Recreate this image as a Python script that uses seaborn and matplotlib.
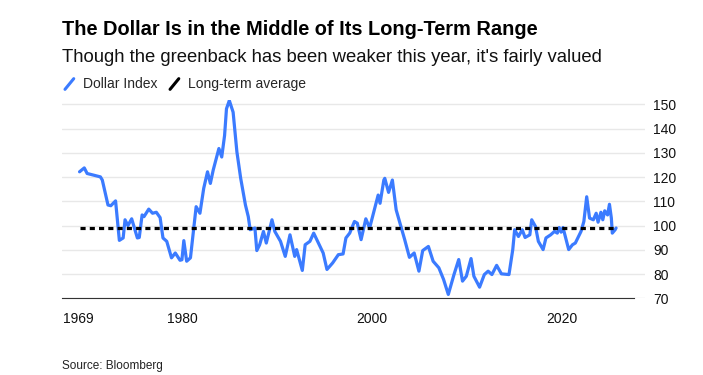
import pandas as pd
import numpy as np
import matplotlib.pyplot as plt
from matplotlib.lines import Line2D
from matplotlib.legend_handler import HandlerBase
import seaborn as sns

# values
years = [1969.15, 1969.65, 1969.95, 1970.65, 1971.35, 1971.55, 1972.15, 1972.45, 1972.95, 1973.35,
         1973.75, 1973.95, 1974.25, 1974.65, 1975.25, 1975.45, 1975.75, 1975.95, 1976.45, 1976.85,
         1977.25, 1977.65, 1977.95, 1978.35, 1978.85, 1979.25, 1979.75, 1979.95, 1980.15, 1980.45,
         1980.85, 1981.45, 1981.85, 1982.25, 1982.65, 1982.95, 1983.25, 1983.85, 1984.15, 1984.45,
         1984.65, 1984.95, 1985.35, 1985.75, 1986.15, 1986.65, 1986.95, 1987.15, 1987.65, 1987.85,
         1988.15, 1988.55, 1988.85, 1989.45, 1989.75, 1990.35, 1990.85, 1991.35, 1991.85, 1992.05,
         1992.65, 1992.95, 1993.45, 1993.85, 1994.35, 1994.85, 1995.25, 1995.85, 1996.45, 1996.95,
         1997.25, 1997.65, 1998.15, 1998.45, 1998.85, 1999.35, 1999.75, 2000.25, 2000.65, 2000.85,
         2001.25, 2001.35, 2001.75, 2002.15, 2002.55, 2002.95, 2003.45, 2003.95, 2004.45, 2004.95,
         2005.35, 2005.95, 2006.45, 2007.05, 2007.55, 2008.05, 2008.35, 2008.65, 2009.15, 2009.55,
         2009.95, 2010.45, 2010.75, 2011.35, 2011.85, 2012.25, 2012.65, 2013.15, 2013.65, 2014.45,
         2014.85, 2015.05, 2015.45, 2015.85, 2016.15, 2016.65, 2016.85, 2017.25, 2017.55, 2018.05,
         2018.35, 2018.85, 2019.25, 2019.55, 2019.75, 2019.95, 2020.15, 2020.75, 2021.15, 2021.45,
         2022.05, 2022.35, 2022.65, 2022.95, 2023.35, 2023.65, 2023.85, 2024.15, 2024.35, 2024.55,
         2024.85, 2025.05, 2025.25, 2025.35, 2025.65, 2025.75]
dollar_index = [122.2, 123.8, 121.5, 120.8, 120.1, 118.8, 108.5, 108.2, 110.2, 93.9,
                94.9, 102.4, 100.0, 102.8, 94.9, 95.1, 104.4, 103.7, 106.8, 105.1,
                105.5, 103.3, 94.9, 93.5, 86.7, 88.7, 85.7, 85.9, 93.8, 85.3,
                86.7, 107.8, 105.1, 115.4, 122.2, 117.4, 122.9, 131.8, 128.3, 137.2,
                148.2, 151.6, 146.8, 130.4, 119.5, 108.5, 103.7, 98.3, 99.0, 89.7,
                92.1, 97.6, 92.8, 102.4, 97.6, 93.5, 87.3, 96.2, 87.3, 90.1,
                81.5, 92.1, 93.5, 96.9, 92.8, 88.7, 81.9, 84.6, 88.0, 88.3,
                94.9, 96.9, 101.7, 101.0, 94.2, 102.8, 99.0, 106.5, 112.6, 109.2,
                118.8, 119.5, 113.7, 118.8, 106.5, 101.0, 94.2, 86.9, 88.7, 81.2,
                89.7, 91.4, 85.3, 82.6, 77.8, 71.6, 75.7, 79.8, 86.0, 77.1,
                79.1, 86.4, 79.1, 74.6, 79.8, 81.2, 79.8, 83.6, 80.1, 79.8,
                90.1, 98.3, 95.5, 98.3, 95.1, 96.2, 102.4, 99.6, 93.5, 90.1,
                94.9, 96.2, 97.6, 96.9, 99.2, 97.3, 99.2, 90.1, 92.1, 92.8,
                97.6, 101.7, 111.9, 103.1, 102.4, 105.1, 101.4, 105.5, 102.4, 106.1,
                104.4, 108.8, 103.1, 96.9, 98.3, 99.0]
long_term_avg = 98.9

tick_years = [1969, 1980, 2000, 2020]
y_ticks = [70, 80, 90, 100, 110, 120, 130, 140, 150]

df = pd.DataFrame({"year": years, "Dollar Index": dollar_index})
df["Long-term average"] = long_term_avg

sns.set_style("white")
plt.rcParams["font.family"] = ["Liberation Sans", "DejaVu Sans"]

blue = "#3b7bff"
fig = plt.figure(figsize=(7.03, 3.75), dpi=100)
ax = fig.add_axes([0.0882, 0.2045, 0.8293, 0.530])

sns.lineplot(data=df, x="year", y="Dollar Index", ax=ax, color=blue, lw=2.3)
sns.lineplot(data=df, x="year", y="Long-term average", ax=ax, color="black",
             lw=2.3, linestyle=(0, (1.6, 1.3)))

ax.set_xlim(1967.3, 2028.8)
ax.set_ylim(70, 152)
ax.set_xticks(tick_years)
ax.set_xticklabels([str(y) for y in tick_years])
ax.set_yticks(y_ticks)
ax.yaxis.tick_right()
ax.grid(axis="y", color="#e8e8e8", lw=1)
ax.set_axisbelow(True)
for s in ["left", "top", "right"]:
    ax.spines[s].set_visible(False)
ax.spines["bottom"].set_color("#333333")
ax.spines["bottom"].set_bounds(1967.3, 2027.6)
ax.tick_params(axis="x", length=4, width=1, color="#666666", pad=6, labelsize=10, labelcolor="#111111")
ax.tick_params(axis="y", length=0, pad=6, labelsize=10, labelcolor="#111111")
ax.set_xlabel("")
ax.set_ylabel("")


class SlashHandler(HandlerBase):
    def create_artists(self, legend, orig, xd, yd, w, h, fontsize, trans):
        ln = Line2D([xd + w * 0.15, xd + w * 0.85], [yd - h * 0.1, yd + h * 1.0],
                    color=orig.get_color(), lw=2.2, transform=trans)
        return [ln]


handles = [Line2D([], [], color=blue), Line2D([], [], color="black")]
fig.legend(handles, ["Dollar Index", "Long-term average"], loc="upper left",
           bbox_to_anchor=(0.072, 0.827), ncol=2, frameon=False, fontsize=10,
           handlelength=0.9, handletextpad=0.5, columnspacing=0.8,
           handler_map={Line2D: SlashHandler()})

fig.text(0.0882, 0.907, "The Dollar Is in the Middle of Its Long-Term Range",
         fontsize=14.45, fontweight="bold", va="baseline", color="black")
fig.text(0.0882, 0.834, "Though the greenback has been weaker this year, it's fairly valued",
         fontsize=13.3, va="baseline", color="#111111")
fig.text(0.0882, 0.024, "Source: Bloomberg", fontsize=8.5, va="center", color="#222222")

fig.savefig("out.png", dpi=100)
